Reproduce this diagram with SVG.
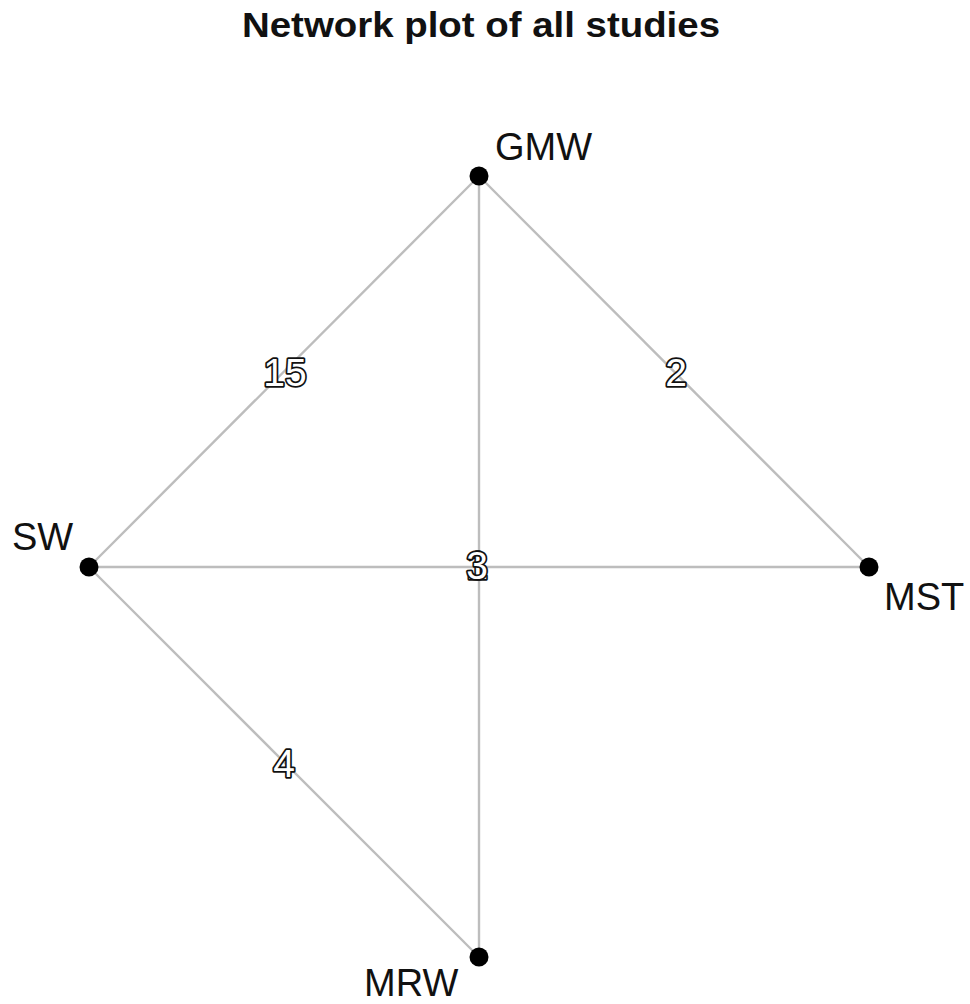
<svg xmlns="http://www.w3.org/2000/svg" width="970" height="1004" viewBox="0 0 970 1004">
<style>
.edge{stroke:#bdbdbd;stroke-width:2.4;fill:none}
.node{fill:#000}
.lab{font-family:"Liberation Sans",Arial,sans-serif;font-size:38px;fill:#111}
.elab{font-family:"Liberation Sans",Arial,sans-serif;font-size:39px;fill:#fff;stroke:#111;stroke-width:3.5;paint-order:stroke;text-anchor:middle;stroke-linejoin:round}
.title{font-family:"Liberation Sans",Arial,sans-serif;font-size:35px;font-weight:bold;fill:#111}
</style>
<rect width="970" height="1004" fill="#fff"/>
<text class="title" x="242" y="37" textLength="478" lengthAdjust="spacingAndGlyphs">Network plot of all studies</text>
<g id="edges">
<line class="edge" x1="479" y1="176" x2="89" y2="567"/>
<line class="edge" x1="479" y1="176" x2="869" y2="567"/>
<line class="edge" x1="479" y1="176" x2="479" y2="957"/>
<line class="edge" x1="89" y1="567" x2="869" y2="567"/>
<line class="edge" x1="89" y1="567" x2="479" y2="957"/>
<text class="elab" x="285" y="386">15</text>
<text class="elab" x="676" y="386">2</text>
<text class="elab" x="284" y="777">4</text>
<text class="elab" x="477" y="579">1</text>
<text class="elab" x="477" y="579">3</text>
</g>
<g id="GMW"><circle class="node" cx="479" cy="176" r="9.5"/><text class="lab" x="495" y="160">GMW</text></g>
<g id="SW"><circle class="node" cx="89" cy="567" r="9.5"/><text class="lab" x="12" y="550">SW</text></g>
<g id="MST"><circle class="node" cx="869" cy="567" r="9.5"/><text class="lab" x="884" y="610">MST</text></g>
<g id="MRW"><circle class="node" cx="479" cy="957" r="9.5"/><text class="lab" x="364" y="996">MRW</text></g>
</svg>
